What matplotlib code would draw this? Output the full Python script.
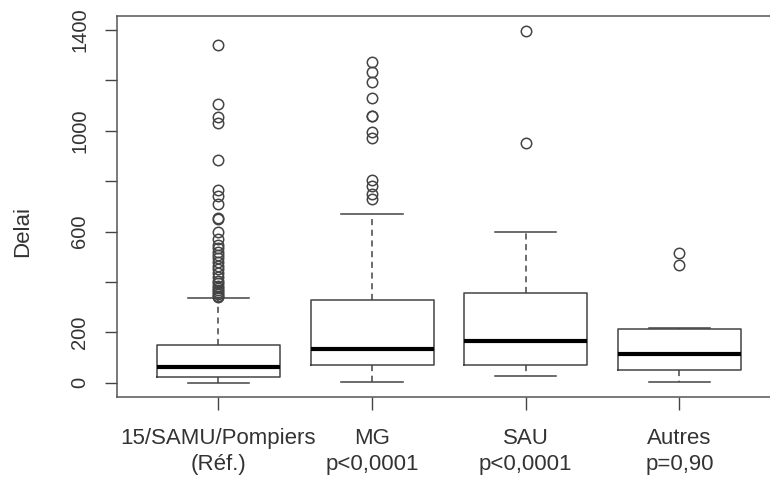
import matplotlib
matplotlib.use("Agg")
import matplotlib.pyplot as plt

plt.rcParams['font.family'] = ['Liberation Sans', 'DejaVu Sans']

categories = ["15/SAMU/Pompiers\n(Réf.)", "MG\np<0,0001", "SAU\np<0,0001", "Autres\np=0,90"]
medians = [62, 135, 168, 115]
q1 = [23, 71, 69, 52]
q3 = [151, 329, 356, 214]
whislo = [1, 5, 28, 5]
whishi = [336, 672, 600, 219]
fliers_g1 = [1341, 1107, 1054, 1030, 885, 766, 742, 710, 655, 650, 598, 572, 548, 535,
             520, 508, 495, 480, 465, 450, 435, 420, 405, 395, 385, 375, 368, 360, 352, 345, 340]
fliers_g2 = [1272, 1232, 1193, 1132, 1060, 1058, 997, 973, 805, 783, 750, 730]
fliers_g3 = [1398, 951]
fliers_g4 = [517, 468]
yticks = [0, 200, 400, 600, 800, 1000, 1200, 1400]
ytick_labels = ["0", "200", "", "600", "", "1000", "", "1400"]

fliers = [fliers_g1, fliers_g2, fliers_g3, fliers_g4]
stats = []
for i in range(len(categories)):
    stats.append(dict(med=medians[i], q1=q1[i], q3=q3[i], whislo=whislo[i],
                      whishi=whishi[i], fliers=fliers[i], label=categories[i]))

fig = plt.figure(figsize=(7.70, 4.79), dpi=100)
left_px = 116.9
ax = fig.add_axes([left_px/770, (479-397)/479, (770-left_px)/770, (397-16.4)/479])

lc = '#444444'
ax.bxp(stats, positions=[1, 2, 3, 4], widths=0.8, capwidths=0.4,
       boxprops=dict(color=lc, linewidth=1.1),
       whiskerprops=dict(color=lc, linewidth=1.1, linestyle=(0, (4, 3))),
       capprops=dict(color=lc, linewidth=1.1),
       medianprops=dict(color='black', linewidth=3.0, solid_capstyle='butt'),
       flierprops=dict(marker='o', markerfacecolor='none', markeredgecolor=lc,
                       markersize=7.5, markeredgewidth=1.1, linestyle='none'))

ax.set_xlim(0.34, 0.34 + (770-left_px)/153.7)
ax.set_ylim(-56, 1454)
ax.set_yticks(yticks)
ax.set_yticklabels(ytick_labels, rotation=90, va='center', fontsize=14.5, color='#333333')
ax.set_xticks([1, 2, 3, 4])
ax.set_xticklabels(categories, fontsize=16, color='#333333', linespacing=1.3)
ax.tick_params(axis='y', length=9, width=1, color=lc, pad=11, right=False)
ax.tick_params(axis='x', length=9.5, width=1, color=lc, pad=13)
for s in ax.spines.values():
    s.set_color('#555555')
    s.set_linewidth(1.1)
ax.spines['right'].set_visible(False)
fig.text(23/770, (479-(383-600*0.2521))/479, "Delai", rotation=90, va='center', ha='center',
         fontsize=16, color='#333333')

fig.savefig("out.png", dpi=100, facecolor='white')
